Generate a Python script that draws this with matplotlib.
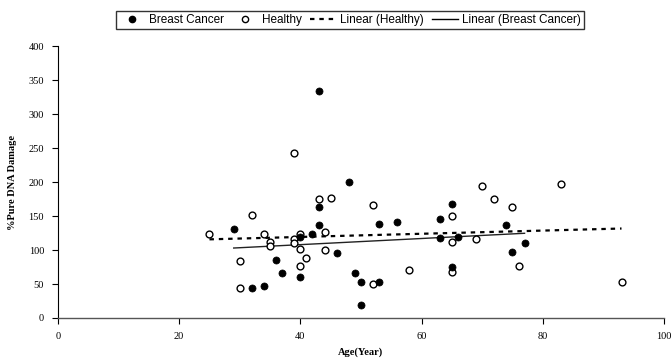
import numpy as np
import matplotlib
matplotlib.use("Agg")
import matplotlib.pyplot as plt
from matplotlib.lines import Line2D

# Breast Cancer data (age, % pure DNA damage)
bc_age = [29, 32, 34, 36, 37, 40, 40, 42, 43, 43, 43, 46, 48, 49, 50, 50, 53, 53,
          56, 63, 63, 65, 65, 66, 74, 75, 77]
bc_dmg = [131, 44, 47, 85, 67, 119, 60, 123, 137, 164, 335, 95, 201, 66, 53, 19, 53, 138,
          141, 146, 118, 168, 75, 120, 137, 97, 110]

# Healthy data
h_age = [25, 30, 30, 32, 34, 35, 35, 39, 39, 39, 40, 40, 40, 41, 43, 44, 44, 45,
         52, 52, 58, 65, 65, 65, 69, 70, 72, 75, 76, 83, 93]
h_dmg = [124, 84, 44, 152, 123, 112, 106, 243, 116, 111, 124, 102, 77, 89, 175, 126, 100, 177,
         166, 50, 70, 150, 112, 68, 116, 195, 175, 164, 77, 197, 53]

x_ticks = [0, 20, 40, 60, 80, 100]
y_ticks = [0, 50, 100, 150, 200, 250, 300, 350, 400]

fig = plt.figure(figsize=(6.72, 3.6), dpi=100)
ax = fig.add_axes([0.0863, 0.1167, 0.9017, 0.7543])

serif = "Liberation Serif"
sans = "Liberation Sans"

# trend lines (least squares)
ba, bb = np.polyfit(bc_age, bc_dmg, 1)
ha, hb = np.polyfit(h_age, h_dmg, 1)
bx = np.array([min(bc_age), max(bc_age)])
hx = np.array([min(h_age), max(h_age)])
ax.plot(hx, ha * hx + hb, color="black", lw=1.6, linestyle=(0, (2, 2.2)), zorder=2)
ax.plot(bx, ba * bx + bb, color="#222222", lw=1.0, linestyle="-", zorder=2)

ax.scatter(h_age, h_dmg, s=24, facecolors="white", edgecolors="black", linewidths=1.0, zorder=3)
ax.scatter(bc_age, bc_dmg, s=26, facecolors="black", edgecolors="black", linewidths=0.5, zorder=4)

ax.set_xlim(0, 100)
ax.set_ylim(0, 400)
ax.set_xticks(x_ticks)
ax.set_yticks(y_ticks)
ax.set_xticklabels([str(t) for t in x_ticks], fontfamily=serif, fontsize=7.5)
ax.set_yticklabels([str(t) for t in y_ticks], fontfamily=serif, fontsize=7.5)
ax.tick_params(axis="both", direction="out", length=4, width=0.8, color="black", pad=6)
for s in ["top", "right"]:
    ax.spines[s].set_visible(False)
ax.spines["left"].set_color("black")
ax.spines["left"].set_linewidth(0.8)
ax.spines["bottom"].set_color("#555555")
ax.spines["bottom"].set_linewidth(1.0)

ax.set_xlabel("Age(Year)", fontfamily=serif, fontsize=7.5, fontweight="bold", labelpad=5)
ax.set_ylabel("%Pure DNA Damage", fontfamily=serif, fontsize=7.5, fontweight="bold", labelpad=8)

handles = [
    Line2D([], [], marker="o", color="black", markerfacecolor="black", markersize=4.5, linestyle="None"),
    Line2D([], [], marker="o", color="black", markerfacecolor="white", markersize=4.5, markeredgewidth=1.0, linestyle="None"),
    Line2D([], [], color="black", lw=1.6, linestyle=(0, (2, 2.2))),
    Line2D([], [], color="black", lw=1.0),
]
labels = ["Breast Cancer", "Healthy", "Linear (Healthy)", "Linear (Breast Cancer)"]
leg = fig.legend(handles, labels, loc="center", bbox_to_anchor=(350 / 672, 1 - 20 / 360), ncol=4,
                 prop={"family": sans, "size": 8.5}, frameon=True, fancybox=False,
                 edgecolor="black", handlelength=2.2, handletextpad=0.35, columnspacing=0.7,
                 borderpad=0.25, borderaxespad=0)
leg.get_frame().set_linewidth(1.0)

fig.savefig("out.png", dpi=100)
